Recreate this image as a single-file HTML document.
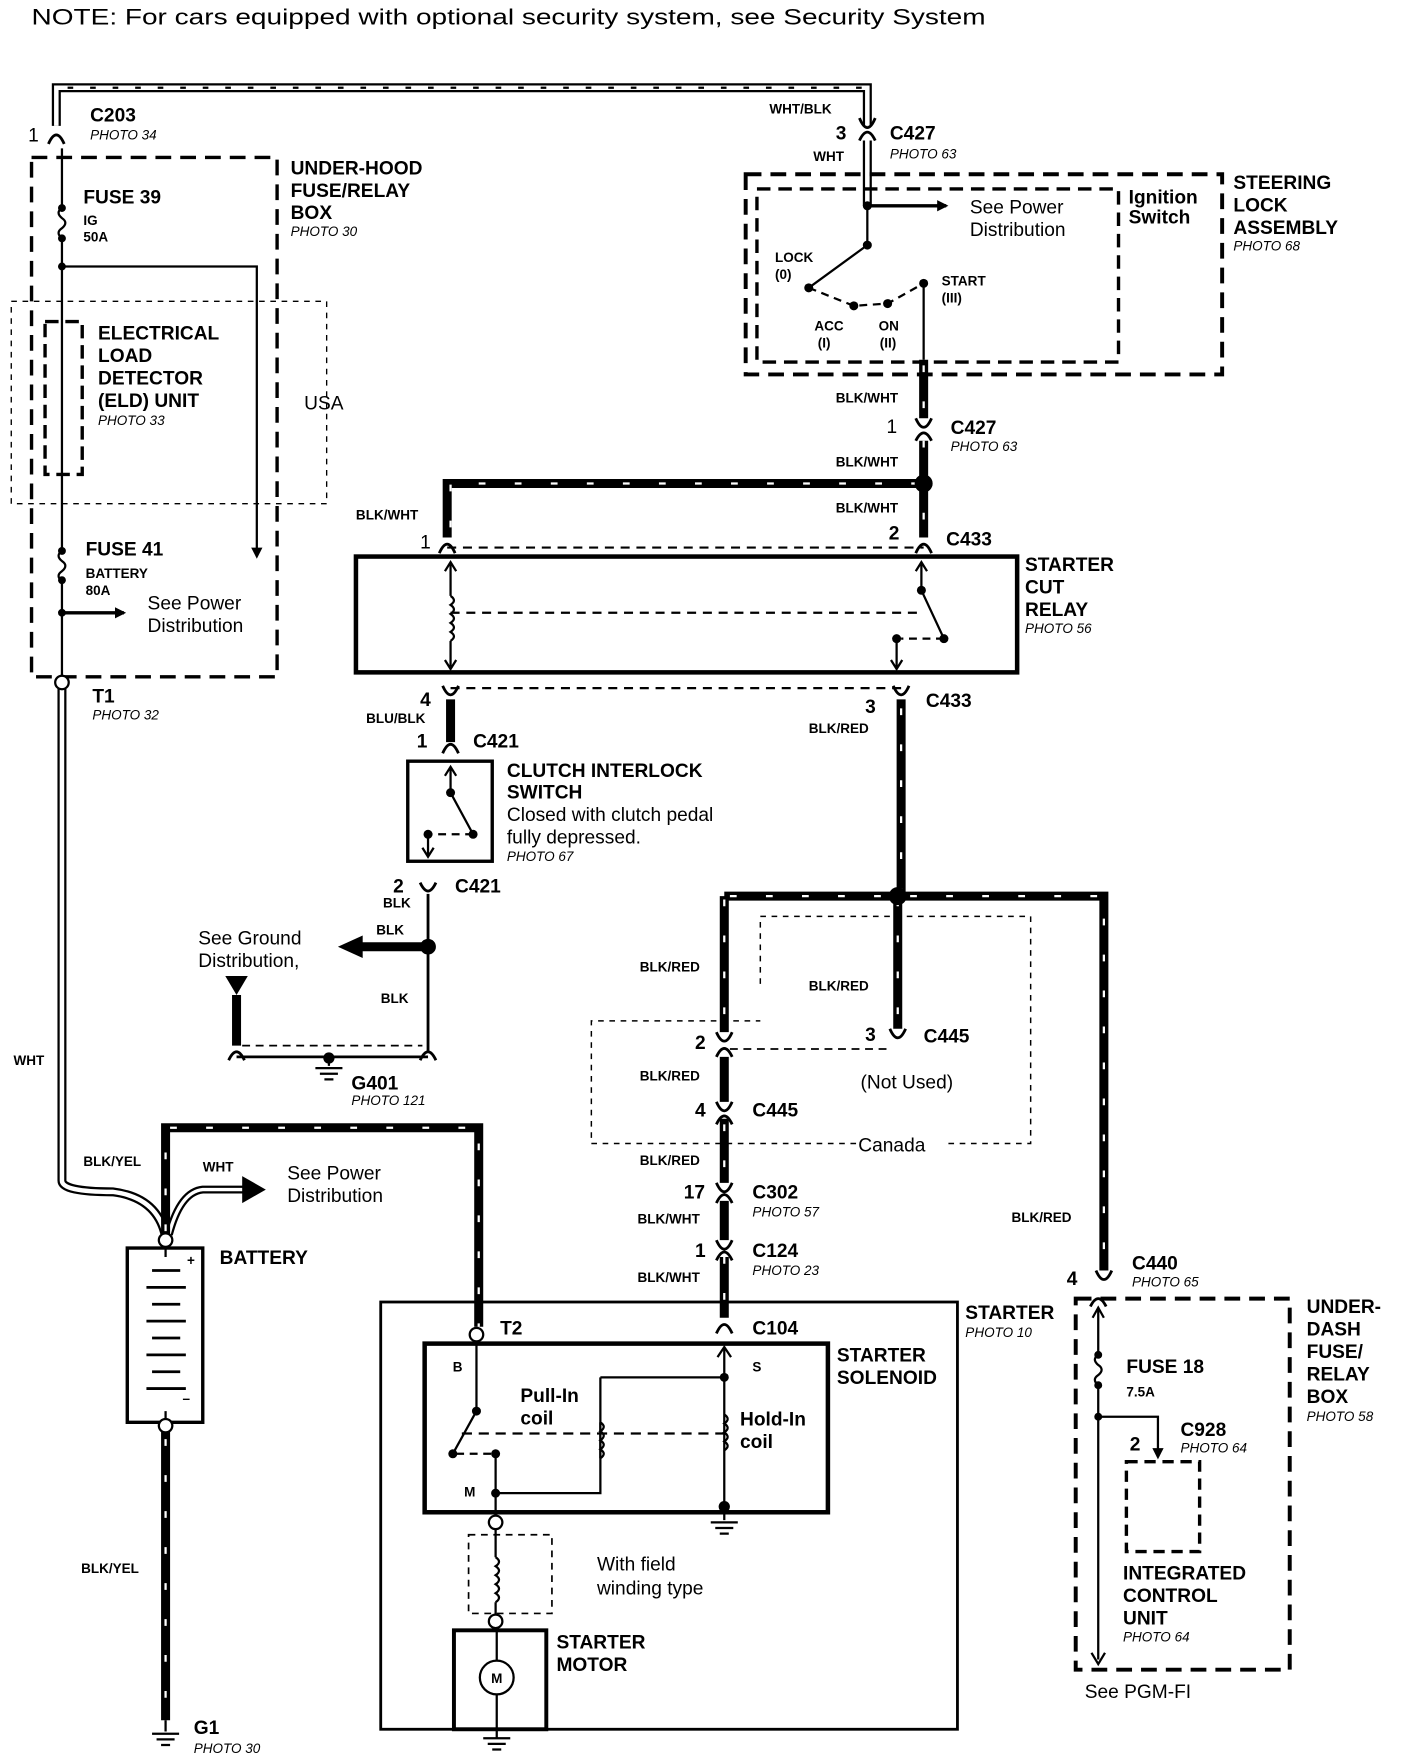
<!DOCTYPE html>
<html><head><meta charset="utf-8"><style>
html,body{margin:0;padding:0;background:#fff}
svg{display:block}
text{font-family:"Liberation Sans",sans-serif;fill:#000}
.b{font-weight:bold;font-size:17px}
.s{font-weight:bold;font-size:12px}
.p{font-style:italic;font-size:12px}
.n{font-size:17px}
</style></head><body>
<svg width="1408" height="1754" viewBox="0 0 1250 1560" preserveAspectRatio="none" xmlns="http://www.w3.org/2000/svg">
<defs>
<marker id="ar" markerWidth="10" markerHeight="10" refX="8" refY="5" orient="auto" markerUnits="userSpaceOnUse"><path d="M0,0 L10,5 L0,10 z" fill="#000"/></marker>
</defs>
<g fill="none" stroke="#000">
<path d="M50,112 V78 H770 V112" stroke-width="8"/>
<path d="M50,112 V78 H770 V112" stroke="#fff" stroke-width="4"/>
<path d="M60,78 H765" stroke-width="2" stroke-dasharray="5 15"/>
<path d="M55,612 V1050 Q55,1060 100,1060 Q140,1065 147,1100" stroke-width="8"/>
<path d="M55,612 V1050 Q55,1060 100,1060 Q140,1065 147,1100" stroke="#fff" stroke-width="4"/>
<path d="M150,1098 Q160,1060 180,1058 H225" stroke-width="7"/>
<path d="M150,1098 Q160,1060 180,1058 H225" stroke="#fff" stroke-width="3"/>
<path d="M770,125 V183" stroke-width="8"/><path d="M770,125 V183" stroke="#fff" stroke-width="4"/>
<g stroke-width="8">
<path d="M820,320 V372 M820,392 V478 M820,430 H397 V478"/>
<path d="M400,622 V660 M800,622 V797 M643,797 H980 V1130 M643,797 V918 M797,797 V915"/>
<path d="M643,940 V980 M643,995 V1052 M643,1068 V1103 M643,1118 V1172"/>
<path d="M147,1100 V1003 H425 V1180 M147,1270 V1530"/>
<path d="M320,842 H380 M210,885 V930"/>
</g>
<g stroke="#fff" stroke-width="2" stroke-dasharray="6 26">
<path d="M820,325 V372 M820,392 V478 M815,430 H400 V478"/>
<path d="M800,630 V797 M648,797 H980 V1130 M643,800 V918 M797,800 V915"/>
<path d="M643,1000 V1052 M643,1118 V1172 M147,1095 V1003 H425 V1180 M147,1280 V1530"/>
</g>
<g stroke-width="2.5">
<path d="M43,128 Q50,112 57,128 M763,105 Q770,122 777,105 M763,125 Q770,110 777,125"/>
<path d="M813,372 Q820,388 827,372 M813,392 Q820,378 827,392"/>
<path d="M390,492 Q397,476 404,492 M813,492 Q820,476 827,492"/>
<path d="M393,610 Q400,626 407,610 M793,610 Q800,626 807,610"/>
<path d="M393,670 Q400,654 407,670 M373,785 Q380,800 387,785"/>
<path d="M203,943 Q210,928 217,943 M373,943 Q380,928 387,943"/>
<path d="M636,918 Q643,934 650,918 M636,940 Q643,925 650,940 M790,915 Q797,931 804,915"/>
<path d="M636,980 Q643,996 650,980 M636,1000 Q643,985 650,1000"/>
<path d="M636,1052 Q643,1068 650,1052 M636,1070 Q643,1055 650,1070"/>
<path d="M636,1103 Q643,1119 650,1103 M636,1121 Q643,1106 650,1121"/>
<path d="M636,1186 Q643,1170 650,1186 M973,1130 Q980,1146 987,1130 M968,1162 Q975,1148 982,1162"/>
</g>
<rect x="28" y="140" width="218" height="462" stroke-width="3" stroke-dasharray="14 8"/>
<rect x="10" y="268" width="280" height="180" stroke-width="1.2" stroke-dasharray="5 5"/>
<path d="M40,286 H73 V422 H40 Z" stroke-width="3" stroke-dasharray="12 6"/>
<path d="M55,132 V185 M55,212 V490 M55,516 V602" stroke-width="2"/>
<path d="M55,185 q-6,4 0,9 q6,4 0,9 q-6,4 0,9 M55,490 q-6,4 0,9 q6,4 0,9 q-6,4 0,9" stroke-width="2"/>
<path d="M55,237 H228 V495" stroke-width="2" marker-end="url(#ar)"/>
<path d="M55,545 H110" stroke-width="3" marker-end="url(#ar)"/>
<circle cx="55" cy="607" r="6" fill="#fff" stroke-width="2"/>
<rect x="662" y="155" width="423" height="178" stroke-width="3.5" stroke-dasharray="14 8"/>
<rect x="672" y="168" width="321" height="154" stroke-width="3" stroke-dasharray="12 7"/>
<path d="M770,183 V218 L718,256" stroke-width="2"/>
<path d="M770,183 H840" stroke-width="3" marker-end="url(#ar)"/>
<path d="M718,256 L758,272 L788,270 L820,252" stroke-width="2" stroke-dasharray="7 5"/>
<path d="M820,252 V320" stroke-width="2"/>
<rect x="316" y="495" width="587" height="103" stroke-width="4"/>
<path d="M397,487 H820 M400,612 H800" stroke-width="2" stroke-dasharray="8 6"/>
<path d="M400,502 V530 M400,570 V593 M400,530 q6,4 0,8 q6,4 0,8 q6,4 0,8 q6,4 0,8 q6,4 0,8" stroke-width="2"/>
<path d="M395,508 L400,500 L405,508 M395,587 L400,595 L405,587" stroke-width="2"/>
<path d="M400,545 H820" stroke-width="2" stroke-dasharray="8 6"/>
<path d="M818,500 V525 L838,568 M813,508 L818,500 L823,508 M796,568 V593 M791,587 L796,595 L801,587" stroke-width="2"/>
<path d="M838,568 H800" stroke-width="2" stroke-dasharray="7 5"/>
<rect x="362" y="677" width="75" height="89" stroke-width="3"/>
<path d="M400,683 V705 L420,742 M395,690 L400,682 L405,690 M380,742 V760 M375,754 L380,762 L385,754" stroke-width="2"/>
<path d="M420,742 H382" stroke-width="2" stroke-dasharray="7 5"/>
<path d="M380,795 V935 M210,940 H380" stroke-width="2.5"/>
<path d="M215,930 H375" stroke-width="1.5" stroke-dasharray="7 5"/>
<path d="M292,940 V948 M280,950 H304 M284,955 H300 M288,960 H296" stroke-width="2"/>
<path d="M675,875 V815 H915 V1017 H840 M760,1017 H525 V908 H675" stroke-width="1.3" stroke-dasharray="5 5"/>
<path d="M648,933 H790" stroke-width="1.5" stroke-dasharray="7 5"/>
<rect x="113" y="1110" width="67" height="155" stroke-width="3"/>
<path d="M147,1105 V1118 M147,1255 V1268" stroke-width="2"/>
<path d="M135,1130 H160 M130,1145 H165 M135,1160 H160 M130,1175 H165 M135,1190 H160 M130,1205 H165 M135,1220 H160 M130,1235 H165" stroke-width="2.5"/>
<circle cx="147" cy="1103" r="6" fill="#fff" stroke-width="2"/>
<circle cx="147" cy="1268" r="6" fill="#fff" stroke-width="2"/>
<path d="M147,1530 V1540 M135,1542 H159 M139,1547 H155 M143,1552 H151" stroke-width="2"/>
<rect x="338" y="1158" width="512" height="380" stroke-width="2.5"/>
<rect x="377" y="1195" width="358" height="150" stroke-width="4"/>
<circle cx="423" cy="1187" r="6" fill="#fff" stroke-width="2"/>
<path d="M423,1193 V1255 L402,1293 M440,1290 V1348 M440,1328 H533 V1265 M533,1225 H643 M643,1198 V1340" stroke-width="2"/>
<path d="M405,1293 H440" stroke-width="2" stroke-dasharray="7 5"/>
<path d="M637,1207 L643,1198 L649,1207" stroke-width="2"/>
<path d="M533,1265 q6,4 0,8 q6,4 0,8 q6,4 0,8 q6,4 0,8 M533,1297 V1225 M643,1258 q6,4 0,8 q6,4 0,8 q6,4 0,8 q6,4 0,8" stroke-width="2"/>
<path d="M410,1275 H645" stroke-width="2" stroke-dasharray="9 6"/>
<path d="M643,1345 V1352 M631,1354 H655 M635,1359 H651 M639,1364 H647" stroke-width="2"/>
<circle cx="440" cy="1354" r="6" fill="#fff" stroke-width="2"/>
<rect x="416" y="1365" width="74" height="70" stroke-width="1.5" stroke-dasharray="6 5"/>
<path d="M440,1360 V1385 M440,1385 q6,4 0,8 q6,4 0,8 q6,4 0,8 q6,4 0,8 q6,4 0,8 M440,1425 V1437" stroke-width="2"/>
<circle cx="440" cy="1442" r="6" fill="#fff" stroke-width="2"/>
<rect x="403" y="1450" width="82" height="88" stroke-width="3.5"/>
<circle cx="441" cy="1492" r="15" stroke-width="2"/>
<path d="M441,1448 V1477 M441,1507 V1545 M429,1546 H453 M433,1551 H449 M437,1556 H445" stroke-width="2"/>
<rect x="955" y="1155" width="190" height="330" stroke-width="3.5" stroke-dasharray="14 8"/>
<path d="M975,1163 V1205 M975,1232 V1476 M975,1205 q-6,4 0,9 q6,4 0,9 q-6,4 0,9" stroke-width="2"/>
<path d="M970,1172 L975,1163 L980,1172 M969,1470 L975,1480 L981,1470" stroke-width="2"/>
<path d="M975,1260 H1028 V1296" stroke-width="2" marker-end="url(#ar)"/>
<rect x="1000" y="1300" width="65" height="80" stroke-width="3" stroke-dasharray="10 6"/>
</g>
<g fill="#000">
<circle cx="55" cy="185" r="3.5"/><circle cx="55" cy="212" r="3.5"/><circle cx="55" cy="237" r="3.5"/>
<circle cx="55" cy="490" r="3.5"/><circle cx="55" cy="516" r="3.5"/><circle cx="55" cy="545" r="3.5"/>
<circle cx="770" cy="183" r="4"/><circle cx="770" cy="218" r="4"/><circle cx="718" cy="256" r="4"/>
<circle cx="758" cy="272" r="4"/><circle cx="788" cy="270" r="4"/><circle cx="820" cy="252" r="4"/>
<circle cx="820" cy="430" r="8"/><circle cx="818" cy="525" r="4"/><circle cx="838" cy="568" r="4"/><circle cx="796" cy="568" r="4"/>
<circle cx="400" cy="705" r="4"/><circle cx="420" cy="742" r="4"/><circle cx="380" cy="742" r="4"/>
<circle cx="380" cy="842" r="7"/><circle cx="797" cy="797" r="8"/><circle cx="292" cy="941" r="5"/>
<path d="M300,842 L322,832 V852 Z"/><path d="M200,868 H220 L210,885 Z"/>
<path d="M215,1046 L236,1058 L215,1070 Z"/>
<circle cx="423" cy="1255" r="4"/><circle cx="402" cy="1293" r="4"/><circle cx="440" cy="1293" r="4"/>
<circle cx="440" cy="1328" r="4"/><circle cx="643" cy="1225" r="4"/><circle cx="643" cy="1340" r="5"/>
<circle cx="975" cy="1205" r="3.5"/><circle cx="975" cy="1232" r="3.5"/><circle cx="975" cy="1260" r="3.5"/>
</g>
<text x="28" y="22" style="font-size:20px" textLength="847" lengthAdjust="spacingAndGlyphs">NOTE: For cars equipped with optional security system, see Security System</text>
<text x="25" y="126" class="n">1</text>
<text x="80" y="108" class="b">C203</text><text x="80" y="124" class="p">PHOTO 34</text>
<text x="258" y="155" class="b">UNDER-HOOD</text><text x="258" y="175" class="b">FUSE/RELAY</text><text x="258" y="195" class="b">BOX</text><text x="258" y="210" class="p">PHOTO 30</text>
<text x="74" y="181" class="b">FUSE 39</text><text x="74" y="200" class="s">IG</text><text x="74" y="215" class="s">50A</text>
<text x="87" y="302" class="b">ELECTRICAL</text><text x="87" y="322" class="b">LOAD</text><text x="87" y="342" class="b">DETECTOR</text><text x="87" y="362" class="b">(ELD) UNIT</text><text x="87" y="378" class="p">PHOTO 33</text>
<text x="270" y="364" class="n">USA</text>
<text x="76" y="494" class="b">FUSE 41</text><text x="76" y="514" class="s">BATTERY</text><text x="76" y="529" class="s">80A</text>
<text x="131" y="542" class="n">See Power</text><text x="131" y="562" class="n">Distribution</text>
<text x="82" y="625" class="b">T1</text><text x="82" y="640" class="p">PHOTO 32</text>
<text x="12" y="947" class="s">WHT</text>
<text x="683" y="101" class="s">WHT/BLK</text><text x="742" y="124" class="b">3</text><text x="790" y="124" class="b">C427</text><text x="790" y="141" class="p">PHOTO 63</text><text x="722" y="143" class="s">WHT</text>
<text x="861" y="190" class="n">See Power</text><text x="861" y="210" class="n">Distribution</text>
<text x="1002" y="181" class="b">Ignition</text><text x="1002" y="199" class="b">Switch</text>
<text x="1095" y="168" class="b">STEERING</text><text x="1095" y="188" class="b">LOCK</text><text x="1095" y="208" class="b">ASSEMBLY</text><text x="1095" y="223" class="p">PHOTO 68</text>
<text x="688" y="233" class="s">LOCK</text><text x="688" y="248" class="s">(0)</text>
<text x="836" y="254" class="s">START</text><text x="836" y="269" class="s">(III)</text>
<text x="723" y="294" class="s">ACC</text><text x="726" y="309" class="s">(I)</text><text x="780" y="294" class="s">ON</text><text x="781" y="309" class="s">(II)</text>
<text x="742" y="358" class="s">BLK/WHT</text><text x="787" y="385" class="n">1</text><text x="844" y="386" class="b">C427</text><text x="844" y="401" class="p">PHOTO 63</text>
<text x="742" y="415" class="s">BLK/WHT</text><text x="742" y="456" class="s">BLK/WHT</text><text x="316" y="462" class="s">BLK/WHT</text>
<text x="373" y="488" class="n">1</text><text x="789" y="480" class="b">2</text><text x="840" y="485" class="b">C433</text>
<text x="910" y="508" class="b">STARTER</text><text x="910" y="528" class="b">CUT</text><text x="910" y="548" class="b">RELAY</text><text x="910" y="563" class="p">PHOTO 56</text>
<text x="373" y="628" class="b">4</text><text x="768" y="634" class="b">3</text><text x="822" y="629" class="b">C433</text>
<text x="325" y="643" class="s">BLU/BLK</text><text x="718" y="652" class="s">BLK/RED</text>
<text x="370" y="665" class="b">1</text><text x="420" y="665" class="b">C421</text>
<text x="450" y="691" class="b">CLUTCH INTERLOCK</text><text x="450" y="710" class="b">SWITCH</text>
<text x="450" y="730" class="n">Closed with clutch pedal</text><text x="450" y="750" class="n">fully depressed.</text><text x="450" y="766" class="p">PHOTO 67</text>
<text x="349" y="794" class="b">2</text><text x="404" y="794" class="b">C421</text><text x="340" y="807" class="s">BLK</text>
<text x="334" y="831" class="s">BLK</text><text x="176" y="840" class="n">See Ground</text><text x="176" y="860" class="n">Distribution,</text>
<text x="338" y="892" class="s">BLK</text><text x="312" y="969" class="b">G401</text><text x="312" y="983" class="p">PHOTO 121</text>
<text x="568" y="864" class="s">BLK/RED</text><text x="718" y="881" class="s">BLK/RED</text>
<text x="617" y="933" class="b">2</text><text x="768" y="926" class="b">3</text><text x="820" y="927" class="b">C445</text>
<text x="568" y="961" class="s">BLK/RED</text><text x="764" y="968" class="n">(Not Used)</text>
<text x="617" y="993" class="b">4</text><text x="668" y="993" class="b">C445</text><text x="762" y="1024" class="n">Canada</text>
<text x="568" y="1036" class="s">BLK/RED</text>
<text x="607" y="1066" class="b">17</text><text x="668" y="1066" class="b">C302</text><text x="668" y="1082" class="p">PHOTO 57</text>
<text x="566" y="1088" class="s">BLK/WHT</text>
<text x="617" y="1118" class="b">1</text><text x="668" y="1118" class="b">C124</text><text x="668" y="1134" class="p">PHOTO 23</text>
<text x="566" y="1140" class="s">BLK/WHT</text><text x="898" y="1087" class="s">BLK/RED</text>
<text x="1005" y="1129" class="b">C440</text><text x="1005" y="1144" class="p">PHOTO 65</text><text x="947" y="1143" class="b">4</text>
<text x="74" y="1037" class="s">BLK/YEL</text><text x="180" y="1042" class="s">WHT</text>
<text x="255" y="1049" class="n">See Power</text><text x="255" y="1069" class="n">Distribution</text>
<text x="195" y="1124" class="b">BATTERY</text><text x="166" y="1125" class="s">+</text><text x="162" y="1248" class="s">–</text>
<text x="72" y="1399" class="s">BLK/YEL</text>
<text x="172" y="1542" class="b">G1</text><text x="172" y="1559" class="p">PHOTO 30</text>
<text x="444" y="1187" class="b">T2</text><text x="668" y="1187" class="b">C104</text>
<text x="857" y="1173" class="b">STARTER</text><text x="857" y="1189" class="p">PHOTO 10</text>
<text x="743" y="1211" class="b">STARTER</text><text x="743" y="1231" class="b">SOLENOID</text>
<text x="402" y="1220" class="s">B</text><text x="668" y="1220" class="s">S</text><text x="412" y="1331" class="s">M</text>
<text x="462" y="1247" class="b">Pull-In</text><text x="462" y="1267" class="b">coil</text>
<text x="657" y="1268" class="b">Hold-In</text><text x="657" y="1288" class="b">coil</text>
<text x="530" y="1397" class="n">With field</text><text x="530" y="1418" class="n">winding type</text>
<text x="494" y="1466" class="b">STARTER</text><text x="494" y="1486" class="b">MOTOR</text>
<text x="436" y="1497" class="s">M</text>
<text x="1160" y="1168" class="b">UNDER-</text><text x="1160" y="1188" class="b">DASH</text><text x="1160" y="1208" class="b">FUSE/</text><text x="1160" y="1228" class="b">RELAY</text><text x="1160" y="1248" class="b">BOX</text><text x="1160" y="1264" class="p">PHOTO 58</text>
<text x="1000" y="1221" class="b">FUSE 18</text><text x="1000" y="1242" class="s">7.5A</text>
<text x="1048" y="1277" class="b">C928</text><text x="1048" y="1292" class="p">PHOTO 64</text><text x="1003" y="1290" class="b">2</text>
<text x="997" y="1405" class="b">INTEGRATED</text><text x="997" y="1425" class="b">CONTROL</text><text x="997" y="1445" class="b">UNIT</text><text x="997" y="1460" class="p">PHOTO 64</text>
<text x="963" y="1510" class="n">See PGM-FI</text>
</svg>
</body></html>
